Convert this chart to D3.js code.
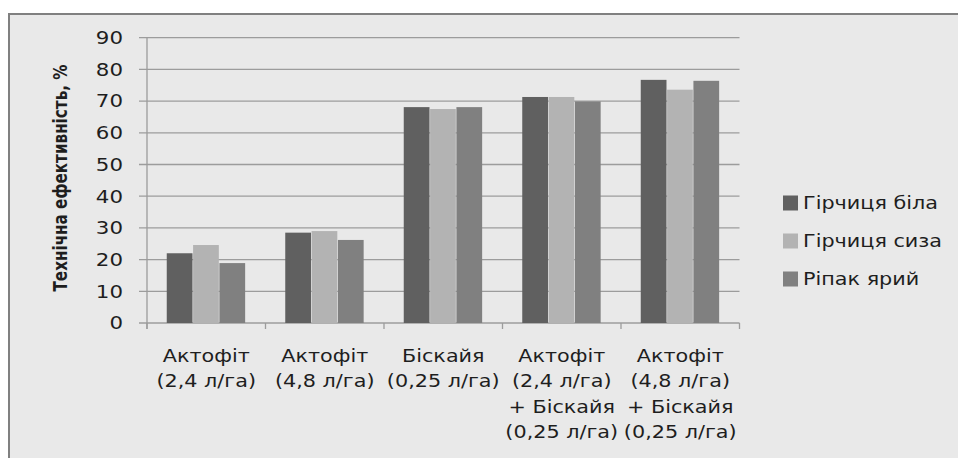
<!DOCTYPE html>
<html>
<head>
<meta charset="utf-8">
<script src="https://cdn.jsdelivr.net/npm/d3@7"></script>
<style>
  body { margin: 0; background: #fff; }
  text { font-family: "DejaVu Sans", Verdana, sans-serif; fill: #1e1e1e; }
</style>
</head>
<body>
<svg id="chart" width="958" height="458"></svg>
<script>
const categories = [
  ["Актофіт", "(2,4 л/га)"],
  ["Актофіт", "(4,8 л/га)"],
  ["Біскайя", "(0,25 л/га)"],
  ["Актофіт", "(2,4 л/га)", "+ Біскайя", "(0,25 л/га)"],
  ["Актофіт", "(4,8 л/га)", "+ Біскайя", "(0,25 л/га)"]
];
const seriesNames = ["Гірчиця біла", "Гірчиця сиза", "Ріпак ярий"];
const girchBila = [22.0, 28.5, 68.1, 71.3, 76.7];
const girchSyza = [24.6, 29.0, 67.5, 71.3, 73.6];
const ripakYaryi = [18.9, 26.2, 68.1, 69.9, 76.4];
const yTicks = [0, 10, 20, 30, 40, 50, 60, 70, 80, 90];
const colors = ["#606060", "#b3b3b3", "#808080"];

const allSeries = [girchBila, girchSyza, ripakYaryi];
const svg = d3.select("#chart");
const stretch = 1.22; // picture text is wider than tall

// chart area background + frame
svg.append("rect").attr("x", 9).attr("y", 14).attr("width", 960).attr("height", 460)
  .attr("fill", "#e9e9e9").attr("stroke", "#808080").attr("stroke-width", 2);

const x0 = d3.scaleBand().domain(d3.range(categories.length)).range([147, 739.5]).paddingInner(0).paddingOuter(0);
const y = d3.scaleLinear().domain([0, 90]).range([323, 37.7]);
// excel like gap width 150%
const barW = x0.bandwidth() / 4.5;

// gridlines
svg.append("g").selectAll("line").data(yTicks).join("line")
  .attr("x1", 139).attr("x2", 739.5)
  .attr("y1", d => y(d)).attr("y2", d => y(d))
  .attr("stroke", "#9c9c9c").attr("stroke-width", 1.3);

// bars
categories.forEach((c, i) => {
  svg.append("g").selectAll("rect").data(allSeries.map(s => s[i])).join("rect")
    .attr("x", (d, j) => x0(i) + barW * 0.75 + j * barW)
    .attr("width", barW - 0.6)
    .attr("y", d => y(d))
    .attr("height", d => y(0) - y(d))
    .attr("fill", (d, j) => colors[j]);
});

// y axis line
svg.append("line").attr("x1", 147).attr("x2", 147).attr("y1", y(90)).attr("y2", y(0) + 6)
  .attr("stroke", "#9c9c9c").attr("stroke-width", 1.3);
// x ticks
svg.append("g").selectAll("line").data(d3.range(categories.length + 1)).join("line")
  .attr("x1", d => d < categories.length ? x0(d) : 739.5)
  .attr("x2", d => d < categories.length ? x0(d) : 739.5)
  .attr("y1", y(0)).attr("y2", y(0) + 6)
  .attr("stroke", "#9c9c9c").attr("stroke-width", 1.3);

// y tick labels
svg.append("g").selectAll("text").data(yTicks).join("text")
  .attr("transform", d => `translate(123,${y(d)}) scale(${stretch},1)`)
  .attr("dy", "0.36em")
  .attr("text-anchor", "end").attr("font-size", 17.5).text(d => d);

// category labels
categories.forEach((lines, i) => {
  svg.append("g").selectAll("text").data(lines).join("text")
    .attr("transform", (d, k) => `translate(${x0(i) + x0.bandwidth() / 2},${362 + k * 25.3}) scale(${stretch},1)`)
    .attr("text-anchor", "middle").attr("font-size", 17)
    .text(d => d);
});

// y axis title
svg.append("text")
  .attr("transform", "translate(67,178) rotate(-90)")
  .attr("text-anchor", "middle").attr("font-size", 19).attr("font-weight", "bold")
  .attr("font-family", "'Liberation Sans Narrow', 'Liberation Sans', sans-serif")
  .attr("textLength", 227).attr("lengthAdjust", "spacingAndGlyphs")
  .text("Технічна ефективність, %");

// legend
const legend = svg.append("g").selectAll("g").data(seriesNames).join("g")
  .attr("transform", (d, j) => `translate(783,${203 + j * 38})`);
legend.append("rect").attr("x", 0).attr("y", -7.5).attr("width", 15).attr("height", 15)
  .attr("fill", (d, j) => colors[j]);
legend.append("text").attr("transform", `translate(20,0) scale(${stretch},1)`)
  .attr("dy", "0.36em").attr("font-size", 17).text(d => d);
</script>
</body>
</html>
